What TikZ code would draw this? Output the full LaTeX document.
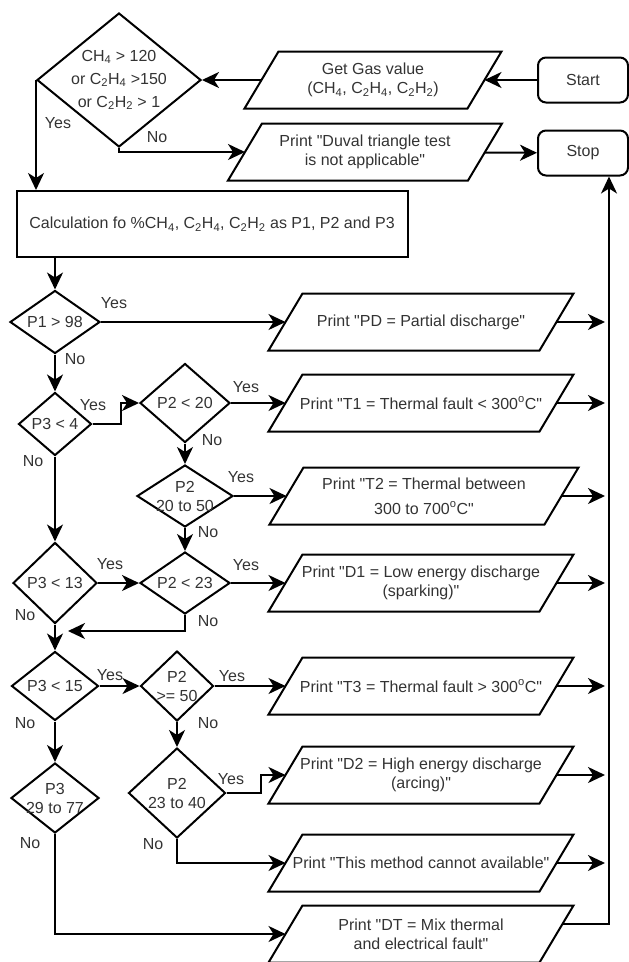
\documentclass[tikz,border=0pt]{standalone}
\usepackage{fontspec}
\setmainfont{Liberation Sans}[Ligatures=TeXOff]
\usetikzlibrary{shapes.geometric,arrows.meta}

\begin{document}
\begin{tikzpicture}[x=1pt, y=-1pt, line width=2pt,
        font=\fontsize{16}{19}\selectfont, text=black!80,
        flecha/.style={-{Stealth[length=17pt,width=16pt,inset=5pt]}},
        rombo/.style 2 args={diamond, draw, inner sep=-20pt, align=center,
            minimum width=#1, minimum height=#2},
        caja/.style={rectangle, draw, rounded corners=8pt,
            minimum width=90pt, minimum height=45pt},
        datos/.style={minimum width=#1, minimum height=55pt, inner sep=0pt, align=center,
            append after command={\pgfextra{\let\ultimo\tikzlastnode
                \draw ([xshift=17pt]\ultimo.north west) -- ([xshift=17pt]\ultimo.north east)
                    -- ([xshift=-17pt]\ultimo.south east) -- ([xshift=-17pt]\ultimo.south west) -- cycle;}}},
        etiq/.style={inner sep=0pt}]
    \useasboundingbox (0,0) rectangle (629,962);

    % Entrada de datos
    \node[caja] (inicio) at (583,80) {Start};
    \node[caja] (fin) at (583,153) {Stop};
    \node[datos=221pt] (gas) at (373,80) {Get Gas value\\(CH\textsubscript{4}, C\textsubscript{2}H\textsubscript{4}, C\textsubscript{2}H\textsubscript{2})};
    \node[rombo={164pt}{134pt}, font=\fontsize{16}{23}\selectfont] (limite) at (119,80)
        {CH\textsubscript{4} > 120\\or C\textsubscript{2}H\textsubscript{4} >150\\or C\textsubscript{2}H\textsubscript{2} > 1};
    \node[datos=238pt] (duval) at (365,152) {Print "Duval triangle test\\is not applicable"};
    \node[draw, minimum width=391pt, minimum height=66pt] (calc) at (212,224)
        {Calculation fo \%CH\textsubscript{4}, C\textsubscript{2}H\textsubscript{4}, C\textsubscript{2}H\textsubscript{2} as P1, P2 and P3};

    % Decisiones
    \node[rombo={90pt}{63pt}] (p1) at (55,322) {P1 > 98};
    \node[rombo={73pt}{63pt}] (p3a) at (55,424) {P3 < 4};
    \node[rombo={90pt}{79pt}] (p2a) at (185,403) {P2 < 20};
    \node[rombo={96pt}{62pt}] (p2b) at (185,496) {P2\\20 to 50};
    \node[rombo={84pt}{81pt}] (p3b) at (55,583) {P3 < 13};
    \node[rombo={90pt}{62pt}] (p2c) at (185,583) {P2 < 23};
    \node[rombo={87pt}{69pt}] (p3c) at (55,686) {P3 < 15};
    \node[rombo={73pt}{70pt}] (p2d) at (177,686) {P2\\>= 50};
    \node[rombo={88pt}{70pt}] (p3d) at (55,798) {P3\\29 to 77};
    \node[rombo={97pt}{90pt}] (p2e) at (177,793) {P2\\23 to 40};

    % Resultados
    \node[datos=269pt] (pd) at (421,322) {Print "PD = Partial discharge"};
    \node[datos=269pt] (t1) at (421,403) {Print "T1 = Thermal fault < 300\textsuperscript{o}C"};
    \node[datos=273pt] (t2) at (424,496) {Print "T2 = Thermal between\\[6pt]300 to 700\textsuperscript{o}C"};
    \node[datos=269pt] (d1) at (421,583) {Print "D1 = Low energy discharge\\(sparking)"};
    \node[datos=269pt] (t3) at (421,686) {Print "T3 = Thermal fault > 300\textsuperscript{o}C"};
    \node[datos=269pt] (d2) at (421,775) {Print "D2 = High energy discharge\\(arcing)"};
    \node[datos=269pt] (na) at (421,863) {Print "This method cannot available"};
    \node[datos=269pt] (dt) at (421,934) {Print "DT = Mix thermal\\and electrical fault"};

    % Etiquetas
    \node[etiq] (s0) at (58,123) {Yes};
    \node[etiq] (n0) at (157,137) {No};
    \node[etiq] (s1) at (114,303) {Yes};
    \node[etiq] (n1) at (75,359) {No};
    \node[etiq] (s2) at (93,405) {Yes};
    \node[etiq] (n2) at (33,461) {No};
    \node[etiq] (s3) at (246,387) {Yes};
    \node[etiq] (n3) at (212,440) {No};
    \node[etiq] (s4) at (241,477) {Yes};
    \node[etiq] (n4) at (208,532) {No};
    \node[etiq] (s5) at (110,564) {Yes};
    \node[etiq] (s6) at (246,565) {Yes};
    \node[etiq] (n5) at (25,615) {No};
    \node[etiq] (n6) at (208,621) {No};
    \node[etiq] (s7) at (110,675) {Yes};
    \node[etiq] (s8) at (232,676) {Yes};
    \node[etiq] (n7) at (25,723) {No};
    \node[etiq] (n8) at (208,723) {No};
    \node[etiq] (s9) at (231,779) {Yes};
    \node[etiq] (n9) at (153,844) {No};
    \node[etiq] (n10) at (30,843) {No};

    \coordinate (union) at (68,631);
    \coordinate (riel) at (609,924);

    \draw[flecha] (inicio) -- (gas);
    \draw[flecha] (gas) -- (limite);
    \draw[flecha] (limite.south) |- (duval.west);
    \draw[flecha] (duval) -- (fin);
    \draw[flecha] (limite.west) -- (limite.west |- calc.north);
    \draw[flecha] (calc.south -| p1) -- (p1);
    \draw[flecha] (p1) -- (pd);
    \draw[flecha] (p1) -- (p3a);
    \draw[flecha] (p3a.east) -- ++(28,0) |- (p2a.west);
    \draw[flecha] (p2a) -- (t1);
    \draw[flecha] (p2a) -- (p2b);
    \draw[flecha] (p2b) -- (t2);
    \draw[flecha] (p2b) -- (p2c);
    \draw[flecha] (p3a) -- (p3b);
    \draw[flecha] (p3b) -- (p2c);
    \draw[flecha] (p2c) -- (d1);
    \draw[flecha] (p2c.south) |- (union);
    \draw[flecha] (p3b) -- (p3c);
    \draw[flecha] (p3c) -- (p2d);
    \draw[flecha] (p2d) -- (t3);
    \draw[flecha] (p2d) -- (p2e);
    \draw[flecha] (p3c) -- (p3d);
    \draw[flecha] (p2e.east) -- ++(34,0) |- (d2.west);
    \draw[flecha] (p2e.south) |- (na.west);
    \draw[flecha] (p3d.south) |- (dt.west);

    % Salidas hacia Stop
    \foreach \n in {pd,t1,t2,d1,t3,d2,na}
        \draw[flecha, shorten >=4pt] (\n.east) -- (\n.east -| riel);
    \draw[flecha] ([xshift=6pt,yshift=10pt]dt.east) -- (riel) -- (riel |- fin.south);
\end{tikzpicture}
\end{document}
